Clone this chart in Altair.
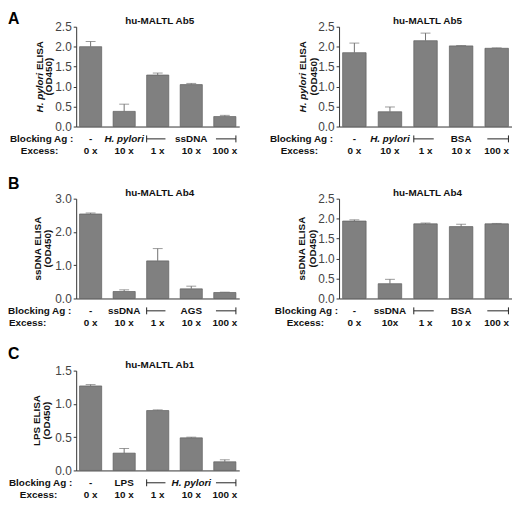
import altair as alt
import pandas as pd

FONT = "Liberation Sans"
cats = ["g1", "g2", "g3", "g4", "g5"]

# Panel A (left): H. pylori ELISA, blocking with H. pylori / ssDNA
a1_vals = [2.00, 0.38, 1.29, 1.05, 0.25]
a1_err = [0.13, 0.18, 0.05, 0.03, 0.03]
a1_block = ["-", "H. pylori", "L", "ssDNA", "R"]
a1_excess = ["0 x", "10 x", "1 x", "10 x", "100 x"]

# Panel A (right): blocking with H. pylori / BSA
a2_vals = [1.85, 0.37, 2.15, 2.02, 1.96]
a2_err = [0.24, 0.12, 0.19, 0.01, 0.01]
a2_block = ["-", "H. pylori", "L", "BSA", "R"]
a2_excess = ["0 x", "10 x", "1 x", "10 x", "100 x"]

# Panel B (left): ssDNA ELISA, blocking with ssDNA / AGS
b1_vals = [2.54, 0.21, 1.13, 0.29, 0.18]
b1_err = [0.03, 0.05, 0.37, 0.08, 0.01]
b1_block = ["-", "ssDNA", "L", "AGS", "R"]
b1_excess = ["0 x", "10 x", "1 x", "10 x", "100 x"]

# Panel B (right): blocking with ssDNA / BSA
b2_vals = [1.94, 0.37, 1.87, 1.80, 1.87]
b2_err = [0.03, 0.11, 0.02, 0.06, 0.01]
b2_block = ["-", "ssDNA", "L", "BSA", "R"]
b2_excess = ["0 x", "10x", "1 x", "10 x", "100 x"]

# Panel C: LPS ELISA, blocking with LPS / H. pylori
c_vals = [1.27, 0.26, 0.90, 0.49, 0.13]
c_err = [0.02, 0.07, 0.01, 0.01, 0.03]
c_block = ["-", "LPS", "L", "H. pylori", "R"]
c_excess = ["0 x", "10 x", "1 x", "10 x", "100 x"]

H = 101
ONE = alt.Data(values=[{"k": 1}])


def label(text, x, y, **kw):
    return alt.Chart(ONE).mark_text(text=text, font=FONT, **kw).encode(
        x=alt.value(x), y=alt.value(y)
    )


def panel(vals, errs, block, excess, title, ytitle, ymax, yticks, width,
          letter=None, letter_dy=-20, block_dx=-67, excess_dx=-56,
          ytitle_dx=(-37, -27)):
    df = pd.DataFrame({
        "cat": cats,
        "value": vals,
        "upper": [v + e for v, e in zip(vals, errs)],
        "block": [b if b not in ("L", "R") else "" for b in block],
        "bracket": [b if b in ("L", "R") else "" for b in block],
        "italic": [b == "H. pylori" for b in block],
        "excess": excess,
    })
    xaxis = alt.Axis(labels=False, ticks=False, title=None, grid=False)
    xscale = alt.Scale(paddingInner=0.34, paddingOuter=0.1)
    yaxis = alt.Axis(values=yticks, format=".1f", title=None, grid=False,
                     tickSize=3, labelPadding=2, labelOverlap=False,
                     labelFlush=False, labelFontSize=12, labelFont=FONT,
                     labelColor="#444444")
    yscale = alt.Scale(domain=[0, ymax], nice=False, zero=True)

    def X(bp=None):
        if bp is None:
            return alt.X("cat:N", sort=cats, scale=xscale, axis=xaxis)
        return alt.X("cat:N", sort=cats, scale=xscale, axis=xaxis, bandPosition=bp)

    def Y(field):
        return alt.Y(field, scale=yscale, axis=yaxis)

    base = alt.Chart(df)
    bars = base.mark_bar(color="#808080", stroke="#5e5e5e", strokeWidth=0.7).encode(
        x=X(), y=Y("value:Q"))
    stem = base.mark_rule(color="#707070", strokeWidth=1).encode(
        x=X(), y=Y("value:Q"), y2="upper:Q")
    cap = base.mark_tick(color="#707070", size=10, thickness=1).encode(
        x=X(), y=Y("upper:Q"))

    yb = H + 12.5
    ye = H + 25
    tk = dict(font=FONT, fontSize=10, fontWeight="bold", color="#111111",
              baseline="middle")
    blk = base.transform_filter("!datum.italic").mark_text(**tk).encode(
        x=X(), y=alt.value(yb), text="block:N")
    blk_i = base.transform_filter("datum.italic").mark_text(fontStyle="italic", **tk).encode(
        x=X(), y=alt.value(yb), text="block:N")
    exc = base.mark_text(**tk).encode(x=X(), y=alt.value(ye), text="excess:N")

    rk = dict(color="#222222", strokeWidth=1)
    lh = base.transform_filter("datum.bracket == 'L'").mark_rule(**rk).encode(
        x=X(0), x2=alt.X2("cat:N", bandPosition=0.85), y=alt.value(yb))
    lv = base.transform_filter("datum.bracket == 'L'").mark_rule(**rk).encode(
        x=X(0), y=alt.value(yb - 3.5), y2=alt.value(yb + 3.5))
    rh = base.transform_filter("datum.bracket == 'R'").mark_rule(**rk).encode(
        x=X(0.1), x2=alt.X2("cat:N", bandPosition=1), y=alt.value(yb))
    rv = base.transform_filter("datum.bracket == 'R'").mark_rule(**rk).encode(
        x=X(1), y=alt.value(yb - 3.5), y2=alt.value(yb + 3.5))

    layers = [bars, stem, cap, blk, blk_i, exc, lh, lv, rh, rv]
    layers.append(label(title, width / 2 + 2, -6, fontSize=10, fontWeight="bold",
                        baseline="middle", align="center", color="#111111"))
    layers.append(label("Blocking Ag :", block_dx, yb, fontSize=10, fontWeight="bold",
                        baseline="middle", align="left", color="#111111"))
    layers.append(label("Excess:", excess_dx, ye, fontSize=10, fontWeight="bold",
                        baseline="middle", align="left", color="#111111"))
    c = H / 2
    if isinstance(ytitle, tuple):
        it, rest = ytitle
        layers.append(label(it, ytitle_dx[0], c - 3.8, angle=270, fontSize=10,
                            fontWeight="bold", fontStyle="italic", align="right",
                            baseline="middle", color="#111111"))
        layers.append(label(rest, ytitle_dx[0], c - 6.6, angle=270, fontSize=10,
                            fontWeight="bold", align="left", baseline="middle",
                            color="#111111"))
    else:
        layers.append(label(ytitle, ytitle_dx[0], c, angle=270, fontSize=10,
                            fontWeight="bold", align="center", baseline="middle",
                            color="#111111"))
    layers.append(label("(OD450)", ytitle_dx[1], c, angle=270, fontSize=10,
                        fontWeight="bold", align="center", baseline="middle",
                        color="#111111"))
    if letter:
        layers.append(label(letter, -69, letter_dy, fontSize=16, fontWeight="bold",
                            baseline="top", align="left", color="#000000"))
    return alt.layer(*layers).properties(width=width, height=H)


ticks25 = [0.0, 0.5, 1.0, 1.5, 2.0, 2.5]
pA1 = panel(a1_vals, a1_err, a1_block, a1_excess, "hu-MALTL Ab5",
            ("H. pylori", "ELISA"), 2.5, ticks25, 165, letter="A", letter_dy=-16,
            block_dx=-67, excess_dx=-56)
pA2 = panel(a2_vals, a2_err, a2_block, a2_excess, "hu-MALTL Ab5",
            ("H. pylori", "ELISA"), 2.5, ticks25, 175,
            block_dx=-70, excess_dx=-59, ytitle_dx=(-36, -25))
pB1 = panel(b1_vals, b1_err, b1_block, b1_excess, "hu-MALTL Ab4",
            "ssDNA ELISA", 3.0, [0.0, 1.0, 2.0, 3.0], 165, letter="B", letter_dy=-23,
            block_dx=-69, excess_dx=-68, ytitle_dx=(-39, -28))
pB2 = panel(b2_vals, b2_err, b2_block, b2_excess, "hu-MALTL Ab4",
            "ssDNA ELISA", 2.5, ticks25, 175,
            block_dx=-65, excess_dx=-53, ytitle_dx=(-37, -26))
pC = panel(c_vals, c_err, c_block, c_excess, "hu-MALTL Ab1",
           "LPS ELISA", 1.5, [0.0, 0.5, 1.0, 1.5], 165, letter="C", letter_dy=-25,
           block_dx=-68, excess_dx=-57, ytitle_dx=(-40, -29))

chart = alt.concat(
    pA1, pA2, pB1, pB2, pC,
    columns=2,
    spacing={"row": 73, "column": 101},
    bounds="flush",
).configure_view(stroke=None).configure_axis(
    domainColor="#333333", tickColor="#333333", labelColor="#444444",
    labelFont=FONT, labelFontSize=12, domainWidth=1, labelOverlap=False,
).properties(padding=0)

chart.save("out.html", embed_options={"renderer": "svg", "actions": False})
